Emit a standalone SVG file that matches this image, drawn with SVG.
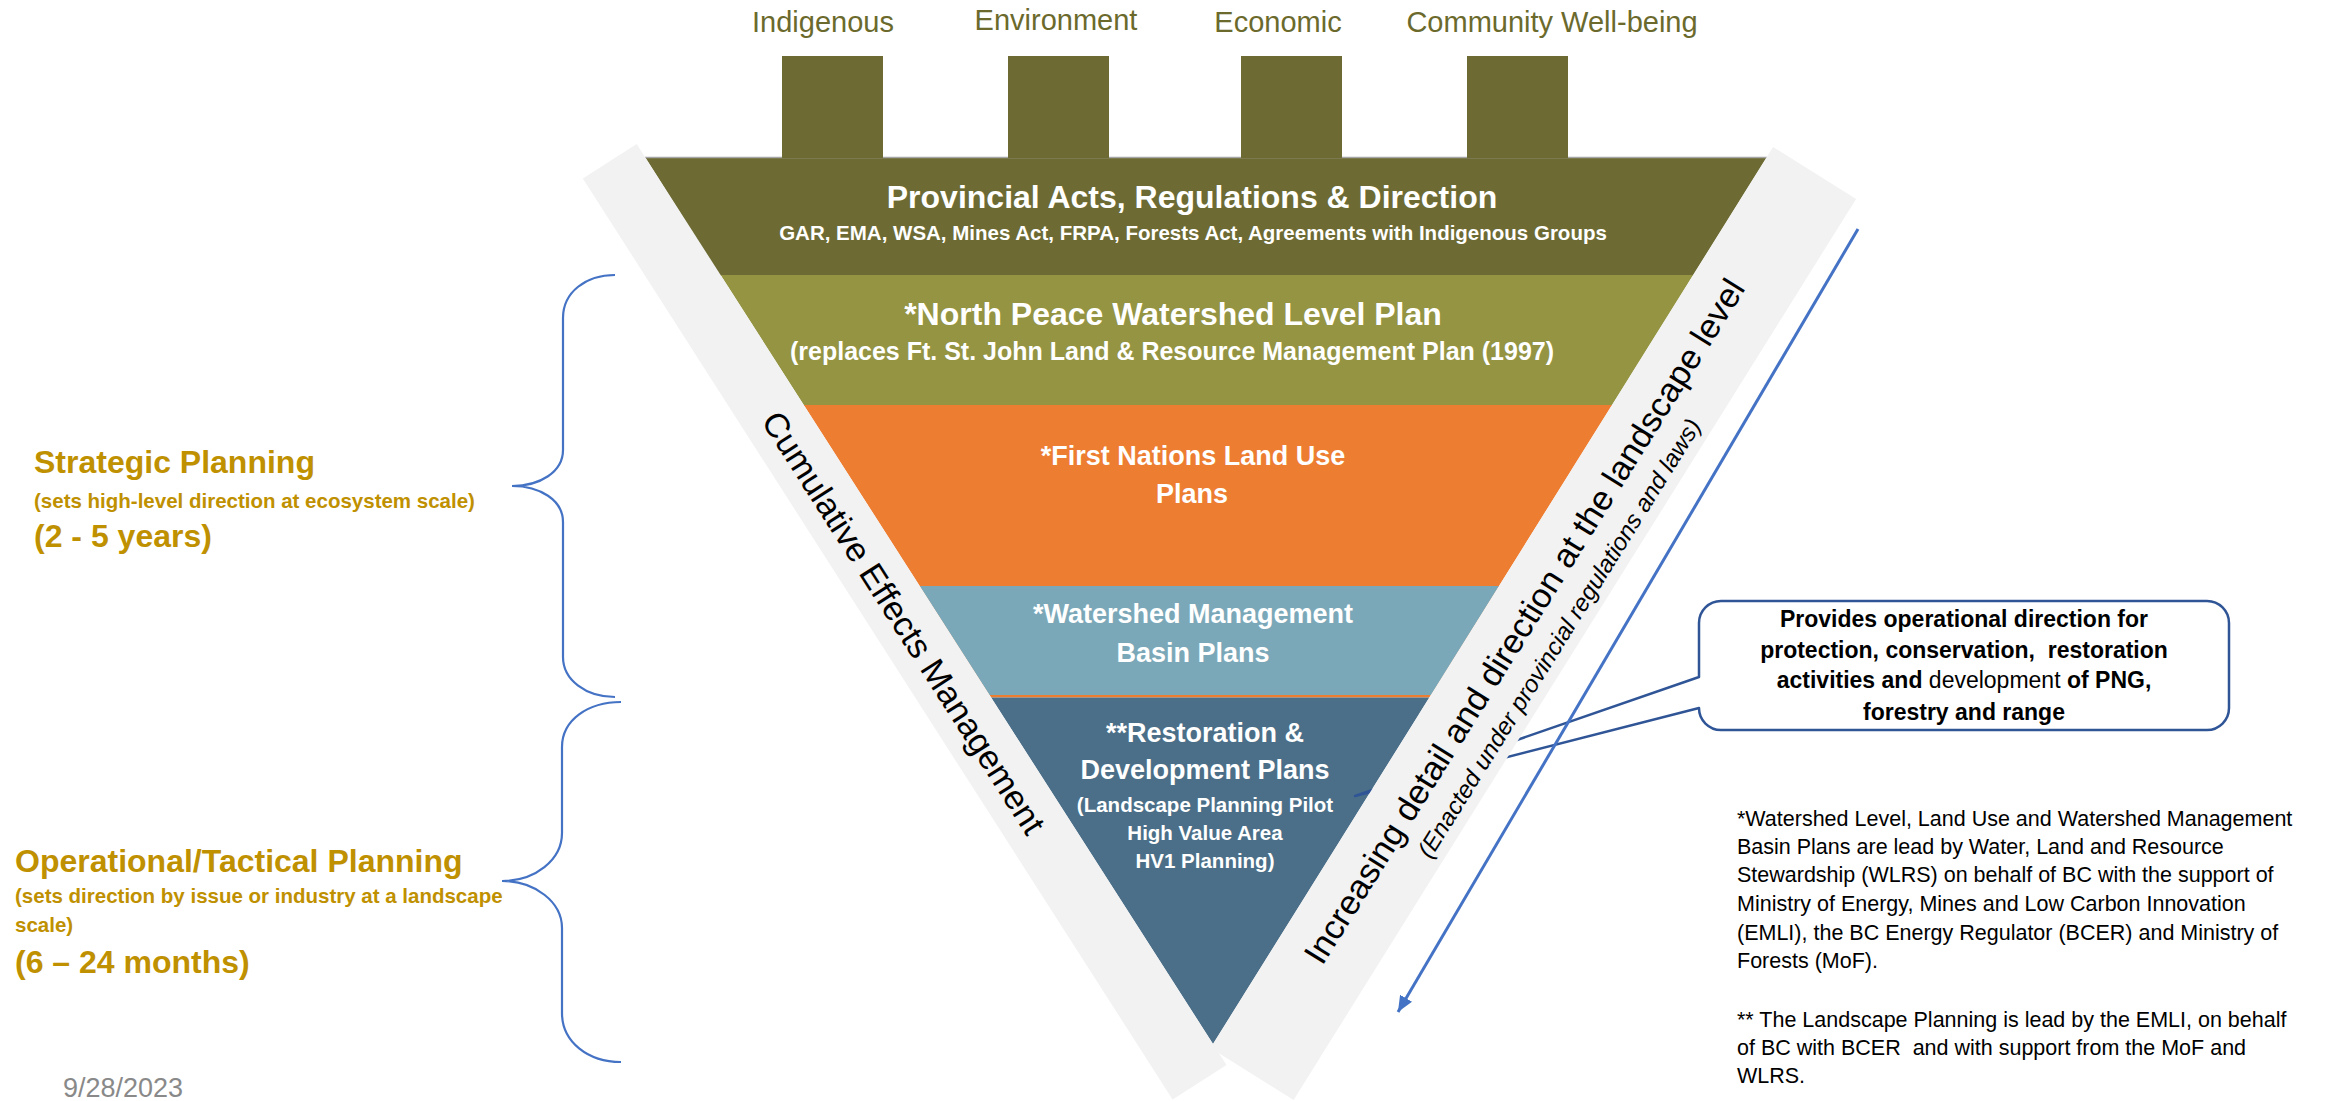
<svg xmlns="http://www.w3.org/2000/svg" width="2333" height="1101" viewBox="0 0 2333 1101">
<style>
text{font-family:"Liberation Sans",Arial,sans-serif}
.hdr{font-size:29px;fill:#6b6a2c;text-anchor:middle}
.lt{fill:#ffffff;font-weight:bold;text-anchor:middle}
.gold{fill:#bf9000;font-weight:bold}
.band{fill:#f2f2f2}
.brace{fill:none;stroke:#4472c4;stroke-width:2.2}
.foot{font-size:21.5px;fill:#000}
.call{font-size:23px;font-weight:bold;fill:#000;text-anchor:middle}
</style>
<defs>
<marker id="ah" markerUnits="userSpaceOnUse" markerWidth="18" markerHeight="14" refX="16" refY="7" orient="auto">
<path d="M0,0 L16,7 L0,14 z" fill="#4472c4"/>
</marker>
</defs>
<rect width="2333" height="1101" fill="#ffffff"/>

<g id="headers">
<text class="hdr" x="823" y="32">Indigenous</text>
<text class="hdr" x="1056" y="30">Environment</text>
<text class="hdr" x="1278" y="32">Economic</text>
<text class="hdr" x="1552" y="32">Community Well-being</text>
</g>

<g id="layer-provincial">
<polygon points="645,157 1767,157 1692.7,276 720,276" fill="#6d6b33"/>
<line x1="645" y1="157.5" x2="1767" y2="157.5" stroke="#a5a5a5" stroke-width="1.5"/>
<rect x="782" y="56" width="101" height="102" fill="#6d6b33"/>
<rect x="1008" y="56" width="101" height="102" fill="#6d6b33"/>
<rect x="1241" y="56" width="101" height="102" fill="#6d6b33"/>
<rect x="1467" y="56" width="101" height="102" fill="#6d6b33"/>
<text class="lt" x="1192" y="208" font-size="32">Provincial Acts, Regulations &amp; Direction</text>
<text class="lt" x="1193" y="240" font-size="20.5">GAR, EMA, WSA, Mines Act, FRPA, Forests Act, Agreements with Indigenous Groups</text>
</g>

<g id="layer-watershed-level">
<polygon points="720.6,275 1693.3,275 1611.5,406 804.4,406" fill="#949442"/>
<text class="lt" x="1173" y="325" font-size="32">*North Peace Watershed Level Plan</text>
<text class="lt" x="1172" y="360" font-size="25">(replaces Ft. St. John Land &amp; Resource Management Plan (1997)</text>
</g>

<g id="layer-first-nations">
<polygon points="803.8,405 1612.1,405 1498.4,587 920.3,587" fill="#ed7d31"/>
<text class="lt" x="1193" y="465" font-size="27">*First Nations Land Use</text>
<text class="lt" x="1192" y="503" font-size="27">Plans</text>
</g>

<g id="layer-basin">
<polygon points="919.7,586 1499,586 1429.4,697.5 991.1,697.5" fill="#ed7d31"/>
<polygon points="919.7,586 1499,586 1431,695 989.5,695" fill="#7ba8b9"/>
<text class="lt" x="1193" y="623" font-size="27">*Watershed Management</text>
<text class="lt" x="1193" y="662" font-size="27">Basin Plans</text>
</g>

<g id="layer-restoration">
<polygon points="991.1,697.5 1429.4,697.5 1213,1044" fill="#4b6f88"/>
<text class="lt" x="1205" y="742" font-size="27">**Restoration &amp;</text>
<text class="lt" x="1205" y="779" font-size="27">Development Plans</text>
<text class="lt" x="1205" y="812" font-size="20.5">(Landscape Planning Pilot</text>
<text class="lt" x="1205" y="840" font-size="20.5">High Value Area</text>
<text class="lt" x="1205" y="868" font-size="20.5">HV1 Planning)</text>
</g>

<g id="callout">
<path d="M1699,677 V623 A22,22 0 0 1 1721,601 H2207 A22,22 0 0 1 2229,623 V708 A22,22 0 0 1 2207,730 H1721 A22,22 0 0 1 1699,708 L1355,796 Z" fill="#ffffff" stroke="#2f5597" stroke-width="2.5" stroke-linejoin="round"/>
<text class="call" x="1964" y="627">Provides operational direction for</text>
<text class="call" x="1964" y="658" xml:space="preserve">protection, conservation,  restoration</text>
<text class="call" x="1964" y="688">activities and <tspan font-weight="normal">development</tspan> of PNG,</text>
<text class="call" x="1964" y="720">forestry and range</text>
</g>

<g id="cumulative-effects-band">
<polygon class="band" points="636.7,144 1226.5,1065 1172.6,1099.5 582.8,178.5"/>
<text transform="translate(893.8,628.9) rotate(57.36)" font-size="34" fill="#000" text-anchor="middle" textLength="494" lengthAdjust="spacingAndGlyphs">Cumulative Effects Management</text>
</g>

<g id="increasing-detail-band">
<polygon class="band" points="1773,147 1856.1,198.9 1293.6,1099.9 1210.5,1048"/>
<text transform="translate(1534.2,627.4) rotate(-58)" font-size="34" fill="#000" text-anchor="middle" textLength="800" lengthAdjust="spacingAndGlyphs">Increasing detail and direction at the landscape level</text>
<text transform="translate(1566.1,642.6) rotate(-58)" font-size="24" font-style="italic" fill="#000" text-anchor="middle" textLength="512" lengthAdjust="spacingAndGlyphs">(Enacted under provincial regulations and laws)</text>
</g>

<g id="connectors">
<line x1="1858" y1="229" x2="1398" y2="1012" stroke="#4472c4" stroke-width="3" marker-end="url(#ah)"/>
</g>

<g id="braces">
<path class="brace" d="M615,275 C586,275 563,292 563,318 V450 C563,472 540,486 512,486 C540,486 563,500 563,522 V657 C563,680 586,697 615,697"/>
<path class="brace" d="M621,702 C588,702 562,720 562,747 V833 C562,860 535,881 502,881 C535,881 562,902 562,928 V1013 C562,1042 588,1062 621,1062"/>
</g>

<g id="strategic-label">
<text class="gold" x="34" y="473" font-size="32">Strategic Planning</text>
<text class="gold" x="34" y="508" font-size="20.5">(sets high-level direction at ecosystem scale)</text>
<text class="gold" x="34" y="547" font-size="32">(2 - 5 years)</text>
</g>

<g id="operational-label">
<text class="gold" x="15" y="872" font-size="32">Operational/Tactical Planning</text>
<text class="gold" x="15" y="903" font-size="20.5">(sets direction by issue or industry at a landscape</text>
<text class="gold" x="15" y="932" font-size="20.5">scale)</text>
<text class="gold" x="15" y="973" font-size="32">(6 – 24 months)</text>
</g>

<g id="date">
<text x="63" y="1097" font-size="27" fill="#898989">9/28/2023</text>
</g>

<g id="footnotes">
<text class="foot" x="1737" y="826">*Watershed Level, Land Use and Watershed Management</text>
<text class="foot" x="1737" y="854">Basin Plans are lead by Water, Land and Resource</text>
<text class="foot" x="1737" y="882">Stewardship (WLRS) on behalf of BC with the support of</text>
<text class="foot" x="1737" y="911">Ministry of Energy, Mines and Low Carbon Innovation</text>
<text class="foot" x="1737" y="940">(EMLI), the BC Energy Regulator (BCER) and Ministry of</text>
<text class="foot" x="1737" y="968">Forests (MoF).</text>
<text class="foot" x="1737" y="1027">** The Landscape Planning is lead by the EMLI, on behalf</text>
<text class="foot" x="1737" y="1055" xml:space="preserve">of BC with BCER  and with support from the MoF and</text>
<text class="foot" x="1737" y="1083">WLRS.</text>
</g>
</svg>
